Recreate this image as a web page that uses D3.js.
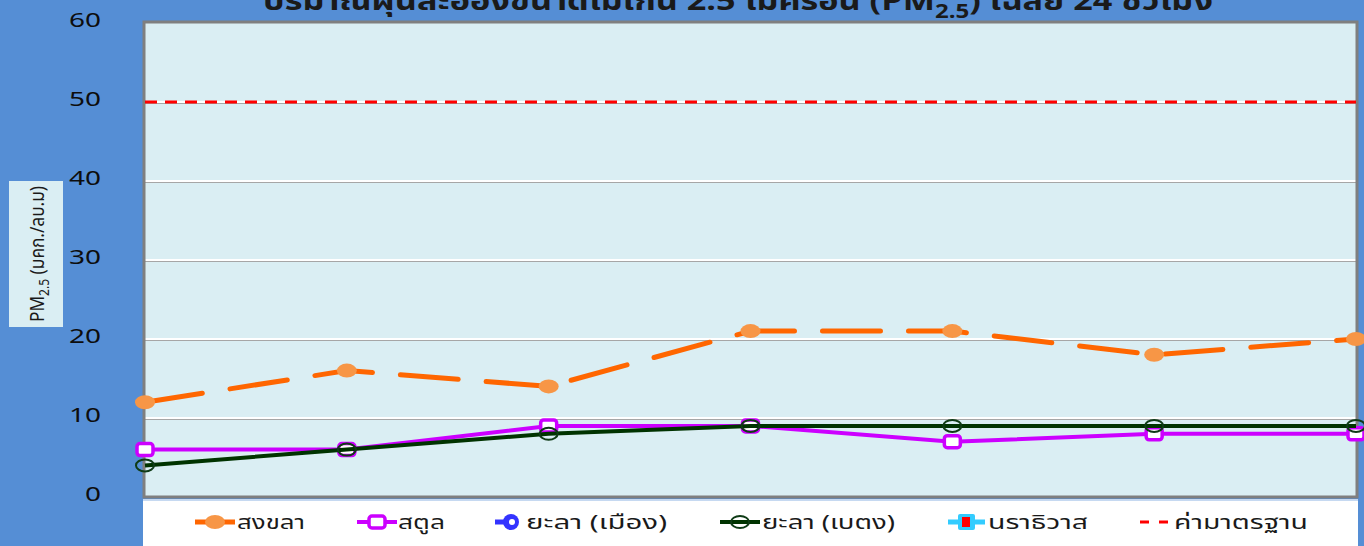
<!DOCTYPE html>
<html>
<head>
<meta charset="utf-8">
<script src="https://cdn.jsdelivr.net/npm/d3@7"></script>
<style>
  html, body { margin: 0; padding: 0; background: #558ED5; overflow: hidden; }
  svg { display: block; }
  text { font-family: "Tahoma", "Noto Sans Thai", "Loma", "Garuda", "Noto Sans", "DejaVu Sans", sans-serif; }
</style>
</head>
<body>
<div id="chart"></div>
<script>
// data
var days = ["1", "2", "3", "4", "5", "6", "7"];
var songkhla = [12, 16, 14, 21, 21, 18, 20];
var satun = [6, 6, 9, 9, 7, 8, 8];
var yalaMueang = [];
var yalaBetong = [4, 6, 8, 9, 9, 9, 9];
var narathiwat = [];
var standardValue = 50;
var yTicks = [0, 10, 20, 30, 40, 50, 60];
var legendNames = ["สงขลา", "สตูล", "ยะลา (เมือง)", "ยะลา (เบตง)", "นราธิวาส", "ค่ามาตรฐาน"];

var width = 1364, height = 546;
var plot = {left: 145, right: 1356, top: 23, bottom: 497};

var svg = d3.select("#chart").append("svg")
    .attr("width", width)
    .attr("height", height);

svg.append("rect").attr("width", width).attr("height", height).attr("fill", "#558ED5");

let x = d3.scalePoint().domain(d3.range(days.length)).range([plot.left, plot.right]);
let y = d3.scaleLinear().domain([0, 60]).range([plot.bottom, plot.top]);

// plot background
svg.append("rect")
    .attr("x", plot.left).attr("y", plot.top)
    .attr("width", plot.right - plot.left).attr("height", plot.bottom - plot.top)
    .attr("fill", "#DAEEF3");

// grid lines (white with a grey shadow)
let grid = svg.append("g");
yTicks.filter(function (d) { return d > 0 && d < 60; }).forEach(function (d) {
    grid.append("line")
        .attr("x1", plot.left).attr("x2", plot.right)
        .attr("y1", y(d) + 1.5).attr("y2", y(d) + 1.5)
        .style("stroke", "#A6A6A6").style("stroke-width", 1);
    grid.append("line")
        .attr("x1", plot.left).attr("x2", plot.right)
        .attr("y1", y(d)).attr("y2", y(d))
        .style("stroke", "#FFFFFF").style("stroke-width", 2);
});

// plot border
svg.append("rect")
    .attr("x", plot.left - 1).attr("y", plot.top - 1)
    .attr("width", plot.right - plot.left + 2).attr("height", plot.bottom - plot.top + 1)
    .attr("fill", "none")
    .style("stroke", "#7F7F7F").style("stroke-width", 3);

// y axis labels
let yAxis = svg.append("g")
    .attr("transform", "translate(101,-3)")
    .call(d3.axisLeft(y).tickValues(yTicks).tickSize(0).tickPadding(0));
yAxis.select(".domain").remove();
yAxis.selectAll("text")
    .attr("font-size", 20)
    .attr("fill", "#0D0D0D")
    .attr("textLength", function (d) { return String(d).length * 16; })
    .attr("lengthAdjust", "spacingAndGlyphs")
    .attr("font-family", "DejaVu Sans, sans-serif");

// standard line
svg.append("line")
    .attr("x1", plot.left).attr("x2", plot.right)
    .attr("y1", y(standardValue)).attr("y2", y(standardValue))
    .style("stroke", "#FF0000").style("stroke-width", 3)
    .style("stroke-dasharray", "12,8");

let line = d3.line()
    .x(function (d, i) { return x(i); })
    .y(function (d) { return y(d); });

// สงขลา
svg.append("path").datum(songkhla)
    .attr("d", line).attr("fill", "none")
    .style("stroke", "#FF6600").style("stroke-width", 5)
    .style("stroke-linecap", "round")
    .style("stroke-dasharray", "58,28");

svg.selectAll(".mk-songkhla").data(songkhla).enter()
    .append("ellipse")
    .attr("cx", function (d, i) { return x(i); })
    .attr("cy", function (d) { return y(d); })
    .attr("rx", 10).attr("ry", 7)
    .attr("fill", "#F79646");

// สตูล
svg.append("path").datum(satun)
    .attr("d", line).attr("fill", "none")
    .style("stroke", "#CC00FF").style("stroke-width", 4);

svg.selectAll(".mk-satun").data(satun).enter()
    .append("rect")
    .attr("x", function (d, i) { return x(i) - 8; })
    .attr("y", function (d) { return y(d) - 6; })
    .attr("width", 16).attr("height", 12)
    .attr("rx", 3)
    .attr("fill", "#FFFFFF")
    .style("stroke", "#CC00FF").style("stroke-width", 3.5);

// ยะลา (เบตง)
svg.append("path").datum(yalaBetong)
    .attr("d", line).attr("fill", "none")
    .style("stroke", "#003300").style("stroke-width", 4);

svg.selectAll(".mk-betong").data(yalaBetong).enter()
    .append("ellipse")
    .attr("cx", function (d, i) { return x(i); })
    .attr("cy", function (d) { return y(d); })
    .attr("rx", 9).attr("ry", 6)
    .attr("fill", "none")
    .style("stroke", "#0F3B16").style("stroke-width", 2);

// title (cut off at the top edge, as in the original)
let title = svg.append("text")
    .attr("x", 738).attr("y", 10)
    .attr("text-anchor", "middle")
    .attr("font-size", 27)
    .attr("font-weight", "bold")
    .attr("fill", "#1A1A1A")
    .attr("textLength", 950)
    .attr("lengthAdjust", "spacingAndGlyphs");
title.append("tspan").text("ปริมาณฝุ่นละอองขนาดไม่เกิน 2.5 ไมครอน (PM");
title.append("tspan").attr("dy", 8).attr("font-size", 19).text("2.5");
title.append("tspan").attr("dy", -8).text(") เฉลี่ย 24 ชั่วโมง");

// y axis title box
svg.append("rect")
    .attr("x", 9).attr("y", 181).attr("width", 54).attr("height", 146)
    .attr("fill", "#DAEEF3");
let yTitle = svg.append("text")
    .attr("transform", "translate(44,254) rotate(-90)")
    .attr("text-anchor", "middle")
    .attr("font-size", 20)
    .attr("fill", "#1A1A1A")
    .attr("textLength", 136)
    .attr("lengthAdjust", "spacingAndGlyphs");
yTitle.append("tspan").text("PM");
yTitle.append("tspan").attr("dy", 5).attr("font-size", 14).text("2.5");
yTitle.append("tspan").attr("dy", -5).text(" (มคก./ลบ.ม)");

// legend
svg.append("rect")
    .attr("x", 143).attr("y", 500).attr("width", 1215).attr("height", 46)
    .attr("fill", "#FFFFFF");
svg.append("line")
    .attr("x1", 143).attr("x2", 1358).attr("y1", 500).attr("y2", 500)
    .style("stroke", "#C6D9F1").style("stroke-width", 2);

let legendX = [195, 357, 495, 720, 948, 1140];
let legendTextX = [237, 398, 526, 762, 988, 1174];
let legendTextW = [68, 47, 141, 133, 100, 134];
let ly = 522;
let lg = svg.append("g");

// สงขลา sample
lg.append("line").attr("x1", legendX[0]).attr("x2", legendX[0] + 40).attr("y1", ly).attr("y2", ly)
    .style("stroke", "#FF6600").style("stroke-width", 5);
lg.append("ellipse").attr("cx", legendX[0] + 20).attr("cy", ly).attr("rx", 10).attr("ry", 7).attr("fill", "#F79646");
// สตูล sample
lg.append("line").attr("x1", legendX[1]).attr("x2", legendX[1] + 40).attr("y1", ly).attr("y2", ly)
    .style("stroke", "#CC00FF").style("stroke-width", 4);
lg.append("rect").attr("x", legendX[1] + 12).attr("y", ly - 6).attr("width", 16).attr("height", 12).attr("rx", 3)
    .attr("fill", "#FFFFFF").style("stroke", "#CC00FF").style("stroke-width", 3.5);
// ยะลา (เมือง) sample
lg.append("line").attr("x1", legendX[2]).attr("x2", legendX[2] + 18).attr("y1", ly).attr("y2", ly)
    .style("stroke", "#3333FF").style("stroke-width", 5);
lg.append("circle").attr("cx", legendX[2] + 16).attr("cy", ly).attr("r", 8).attr("fill", "#3333FF");
lg.append("circle").attr("cx", legendX[2] + 17).attr("cy", ly).attr("r", 3).attr("fill", "#FFFFFF");
// ยะลา (เบตง) sample
lg.append("line").attr("x1", legendX[3]).attr("x2", legendX[3] + 40).attr("y1", ly).attr("y2", ly)
    .style("stroke", "#003300").style("stroke-width", 4);
lg.append("ellipse").attr("cx", legendX[3] + 20).attr("cy", ly).attr("rx", 9).attr("ry", 6)
    .attr("fill", "none").style("stroke", "#0F3B16").style("stroke-width", 2);
// นราธิวาส sample
lg.append("line").attr("x1", legendX[4]).attr("x2", legendX[4] + 37).attr("y1", ly).attr("y2", ly)
    .style("stroke", "#33CCFF").style("stroke-width", 5);
lg.append("rect").attr("x", legendX[4] + 10).attr("y", ly - 8).attr("width", 17).attr("height", 16).attr("rx", 2)
    .attr("fill", "#33CCFF");
lg.append("rect").attr("x", legendX[4] + 14).attr("y", ly - 5).attr("width", 8).attr("height", 10)
    .attr("fill", "#FF0000");
// ค่ามาตรฐาน sample
lg.append("line").attr("x1", legendX[5]).attr("x2", legendX[5] + 32).attr("y1", ly).attr("y2", ly)
    .style("stroke", "#FF0000").style("stroke-width", 3).style("stroke-dasharray", "9,10");

lg.selectAll(".lt").data(legendNames).enter()
    .append("text")
    .attr("x", function (d, i) { return legendTextX[i]; })
    .attr("y", ly + 7)
    .attr("font-size", 20)
    .attr("fill", "#1A1A1A")
    .attr("textLength", function (d, i) { return legendTextW[i]; })
    .attr("lengthAdjust", "spacingAndGlyphs")
    .text(function (d) { return d; });
</script>
</body>
</html>
